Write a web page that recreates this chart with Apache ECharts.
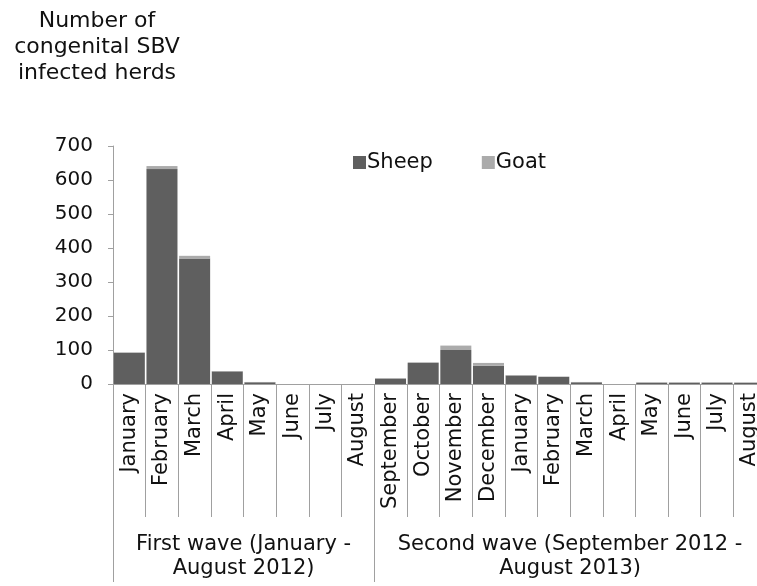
<!DOCTYPE html>
<html>
<head>
<meta charset="utf-8">
<script src="https://cdn.jsdelivr.net/npm/echarts@6/dist/echarts.min.js"></script>
<style>html,body{margin:0;padding:0;background:#fff;overflow:hidden;}#c{width:767px;height:586px;}</style>
</head>
<body>
<div id="c"></div>
<script>
var months = ["January","February","March","April","May","June","July","August",
  "September","October","November","December","January","February","March","April","May","June","July","August"];
var sheep = [92, 632, 369, 37, 5, 0, 0, 0, 16, 62, 100, 54, 25, 21, 5, 0, 4, 4, 4, 4];
var goat  = [1, 9, 8, 1, 1, 0, 0, 0, 1, 2, 13, 8, 1, 1, 1, 0, 1, 1, 1, 0];
var waveLabels = ["First wave (January -\nAugust 2012)", "Second wave (September 2012 -\nAugust 2013)"];
var waveBounds = [0, 8, 20];
var waveCenters = [4, 14];
var yTicks = [0, 700, 100];

var FONT = "DejaVu Sans";
var GRAY = "#a0a0a0";
var chart = echarts.init(document.getElementById('c'), null, {renderer: 'canvas'});
chart.setOption({
  animation: false,
  backgroundColor: '#fff',
  title: {
    text: "Number of\ncongenital SBV\ninfected herds",
    left: 92, top: 3, textAlign: 'center',
    textStyle: {fontFamily: FONT, fontSize: 22, fontWeight: 'normal', color: '#111', lineHeight: 26}
  },
  legend: {
    left: 348, top: 147,
    itemWidth: 13, itemHeight: 13, itemGap: 49,
    icon: 'rect',
    textStyle: {fontFamily: FONT, fontSize: 21, color: '#111', padding: [0, 0, 0, -4]},
    data: ['Sheep', 'Goat']
  },
  grid: {left: 113, right: 1, top: 146, bottom: 202, containLabel: false},
  xAxis: [{
    type: 'category', data: months, boundaryGap: true,
    axisLine: {show: true, lineStyle: {color: GRAY, width: 1}},
    axisTick: {show: true, interval: 0, length: 133, lineStyle: {color: GRAY}},
    axisLabel: {interval: 0, rotate: 90, margin: 9, fontFamily: FONT, fontSize: 21, color: '#111'}
  }, {
    type: 'value', min: waveBounds[0], max: waveBounds[2], position: 'bottom', offset: 133,
    axisLine: {show: false},
    splitLine: {show: false},
    axisTick: {show: true, customValues: waveBounds, length: 65, lineStyle: {color: GRAY}},
    axisLabel: {
      customValues: waveCenters, margin: 16,
      fontFamily: FONT, fontSize: 21, color: '#111', lineHeight: 24, align: 'center',
      formatter: function (v) { return v === waveCenters[0] ? waveLabels[0] : waveLabels[1]; }
    }
  }],
  yAxis: {
    type: 'value', min: yTicks[0], max: yTicks[1], interval: yTicks[2],
    axisLine: {show: true, lineStyle: {color: GRAY}},
    axisTick: {show: true, length: 5, lineStyle: {color: GRAY}},
    splitLine: {show: false},
    axisLabel: {margin: 20, fontFamily: FONT, fontSize: 20, color: '#111'}
  },
  series: [{
    name: 'Sheep', type: 'bar', stack: 'herds', data: sheep,
    barCategoryGap: '5%', itemStyle: {color: '#5f5f5f'}
  }, {
    name: 'Goat', type: 'bar', stack: 'herds', data: goat,
    barCategoryGap: '5%', itemStyle: {color: '#ababab'}
  }]
});
</script>
</body>
</html>
